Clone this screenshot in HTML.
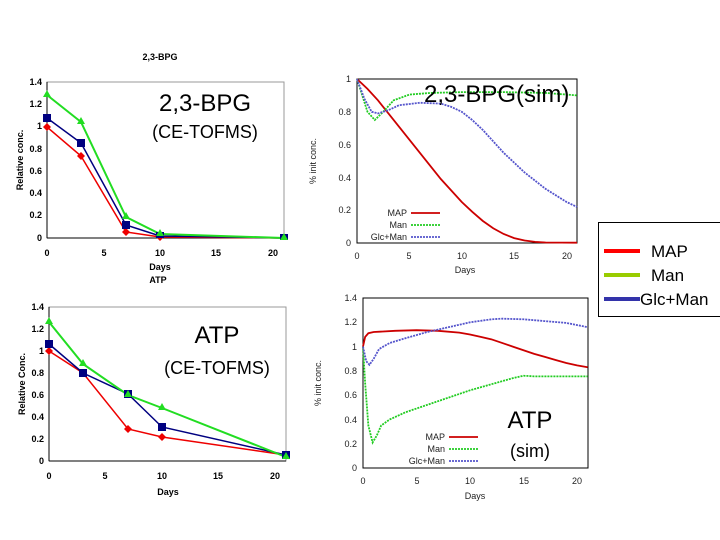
<!DOCTYPE html>
<html><head><meta charset="utf-8"><style>
body{margin:0;background:#fff}
svg{display:block;font-family:"Liberation Sans",sans-serif}
.b{font-weight:bold;font-size:9px}
.g{font-size:9px;fill:#222}
</style></head><body>
<svg width="720" height="540" viewBox="0 0 720 540">
<rect width="720" height="540" fill="#fff"/>
<!-- Top-left -->
<text x="160" y="60" class="b" font-size="7" text-anchor="middle">2,3-BPG</text>
<rect x="47" y="82" width="237" height="156" fill="none" stroke="#999" stroke-width="1"/>
<line x1="47" y1="82" x2="47" y2="238" stroke="#000"/><line x1="47" y1="238" x2="284" y2="238" stroke="#000"/>
<g class="b" text-anchor="end">
<text x="42" y="85">1.4</text><text x="42" y="107">1.2</text><text x="42" y="129">1</text><text x="42" y="152">0.8</text><text x="42" y="174">0.6</text><text x="42" y="196">0.4</text><text x="42" y="218">0.2</text><text x="42" y="241">0</text></g>
<g class="b" text-anchor="middle"><text x="47" y="256">0</text><text x="104" y="256">5</text><text x="160" y="256">10</text><text x="216" y="256">15</text><text x="273" y="256">20</text><text x="160" y="270">Days</text></g>
<text class="b" transform="translate(23,160) rotate(-90)" text-anchor="middle">Relative conc.</text>
<text x="205" y="111" font-size="24" text-anchor="middle">2,3-BPG</text>
<text x="205" y="138" font-size="18" text-anchor="middle">(CE-TOFMS)</text>
<polyline points="47,127 81,156 126,232 160,237 284,238" fill="none" stroke="#e00" stroke-width="1.5"/>
<polyline points="47,118 81,143 126,225 160,236 284,238" fill="none" stroke="#000080" stroke-width="1.5"/>
<polyline points="47,95 81,122 126,217 160,234 284,238" fill="none" stroke="#2d2" stroke-width="2"/>
<g fill="#e00"><path d="M47,123 l4,4 -4,4 -4,-4z M81,152 l4,4 -4,4 -4,-4z M126,228 l4,4 -4,4 -4,-4z M160,233 l4,4 -4,4 -4,-4z"/></g>
<g fill="#000080"><rect x="43" y="114" width="8" height="8"/><rect x="77" y="139" width="8" height="8"/><rect x="122" y="221" width="8" height="8"/><rect x="156" y="232" width="8" height="6"/><rect x="280" y="234" width="8" height="6"/></g>
<g fill="#2d2"><path d="M47,90 l4,7 -8,0z M81,117 l4,7 -8,0z M126,212 l4,7 -8,0z M160,229 l4,7 -8,0z M284,233 l4,7 -8,0z"/></g>

<!-- Bottom-left -->
<text x="158" y="283" class="b" font-size="7" text-anchor="middle">ATP</text>
<rect x="49" y="307" width="237" height="154" fill="none" stroke="#999"/>
<line x1="49" y1="307" x2="49" y2="461" stroke="#000"/><line x1="49" y1="461" x2="286" y2="461" stroke="#000"/>
<g class="b" text-anchor="end">
<text x="44" y="310">1.4</text><text x="44" y="332">1.2</text><text x="44" y="354">1</text><text x="44" y="376">0.8</text><text x="44" y="398">0.6</text><text x="44" y="420">0.4</text><text x="44" y="442">0.2</text><text x="44" y="464">0</text></g>
<g class="b" text-anchor="middle"><text x="49" y="479">0</text><text x="105" y="479">5</text><text x="162" y="479">10</text><text x="218" y="479">15</text><text x="275" y="479">20</text><text x="168" y="495">Days</text></g>
<text class="b" transform="translate(25,384) rotate(-90)" text-anchor="middle">Relative Conc.</text>
<text x="217" y="343" font-size="24" text-anchor="middle">ATP</text>
<text x="217" y="374" font-size="18" text-anchor="middle">(CE-TOFMS)</text>
<polyline points="49,351 83,373 128,429 162,437 286,455" fill="none" stroke="#e00" stroke-width="1.5"/>
<polyline points="49,344 83,373 128,394 162,427 286,455" fill="none" stroke="#000080" stroke-width="1.5"/>
<polyline points="49,322 83,364 128,395 162,408 286,457" fill="none" stroke="#2d2" stroke-width="2"/>
<g fill="#e00"><path d="M49,347 l4,4 -4,4 -4,-4z M83,369 l4,4 -4,4 -4,-4z M128,425 l4,4 -4,4 -4,-4z M162,433 l4,4 -4,4 -4,-4z"/></g>
<g fill="#000080"><rect x="45" y="340" width="8" height="8"/><rect x="79" y="369" width="8" height="8"/><rect x="124" y="390" width="8" height="8"/><rect x="158" y="423" width="8" height="8"/><rect x="282" y="451" width="8" height="8"/></g>
<g fill="#2d2"><path d="M49,317 l4,7 -8,0z M83,359 l4,7 -8,0z M128,390 l4,7 -8,0z M162,403 l4,7 -8,0z M286,452 l4,7 -8,0z"/></g>

<!-- Top-right -->
<rect x="357" y="79" width="220" height="164" fill="none" stroke="#000"/>
<g class="g" text-anchor="end"><text x="351" y="82">1</text><text x="351" y="115">0.8</text><text x="351" y="148">0.6</text><text x="351" y="181">0.4</text><text x="351" y="213">0.2</text><text x="351" y="246">0</text></g>
<g class="g" text-anchor="middle"><text x="357" y="259">0</text><text x="409" y="259">5</text><text x="462" y="259">10</text><text x="514" y="259">15</text><text x="567" y="259">20</text><text x="465" y="273">Days</text></g>
<text class="g" transform="translate(316,161) rotate(-90)" text-anchor="middle">% init conc.</text>
<g transform="translate(357,243) scale(10.476,-164)" fill="none">
<polyline vector-effect="non-scaling-stroke" stroke="#c00" stroke-width="1.8" points="0,1 1,0.94 2,0.87 3,0.79 4,0.71 5,0.63 6,0.55 7,0.47 8,0.39 9,0.32 10,0.25 11,0.19 12,0.135 13,0.09 14,0.055 15,0.03 16,0.015 17,0.007 18,0.003 21,0.002"/>
<polyline vector-effect="non-scaling-stroke" stroke="#2c2" stroke-width="1.8" stroke-dasharray="2,1" points="0,1 0.5,0.9 1,0.8 1.7,0.75 2.5,0.8 3.5,0.87 5,0.905 7,0.915 10,0.92 14,0.92 18,0.915 21,0.9"/>
<polyline vector-effect="non-scaling-stroke" stroke="#55c" stroke-width="1.8" stroke-dasharray="2,1" points="0,1 0.7,0.88 1.4,0.8 2,0.79 3,0.81 4,0.84 6,0.855 8,0.85 9,0.83 10,0.8 11,0.75 12,0.69 13,0.62 14,0.55 15,0.49 16,0.43 17,0.38 18,0.33 19,0.29 20,0.25 21,0.22"/>
</g>
<text x="424" y="102" font-size="24">2,3-BPG(sim)</text>
<g class="g" text-anchor="end" font-size="8"><text x="407" y="216">MAP</text><text x="407" y="228">Man</text><text x="407" y="240">Glc+Man</text></g>
<line x1="411" y1="213" x2="440" y2="213" stroke="#c00" stroke-width="1.8"/>
<line x1="411" y1="225" x2="440" y2="225" stroke="#2c2" stroke-width="1.8" stroke-dasharray="2,1"/>
<line x1="411" y1="237" x2="440" y2="237" stroke="#55c" stroke-width="1.8" stroke-dasharray="2,1"/>

<!-- Bottom-right -->
<rect x="363" y="298" width="225" height="170" fill="none" stroke="#000"/>
<g class="g" text-anchor="end"><text x="357" y="301">1.4</text><text x="357" y="325">1.2</text><text x="357" y="350">1</text><text x="357" y="374">0.8</text><text x="357" y="398">0.6</text><text x="357" y="423">0.4</text><text x="357" y="447">0.2</text><text x="357" y="471">0</text></g>
<g class="g" text-anchor="middle"><text x="363" y="484">0</text><text x="417" y="484">5</text><text x="470" y="484">10</text><text x="524" y="484">15</text><text x="577" y="484">20</text><text x="475" y="499">Days</text></g>
<text class="g" transform="translate(321,383) rotate(-90)" text-anchor="middle">% init conc.</text>
<g transform="translate(363,468) scale(10.7,-121.4)" fill="none">
<polyline vector-effect="non-scaling-stroke" stroke="#c00" stroke-width="1.8" points="0,1 0.2,1.08 0.5,1.11 1,1.12 3,1.13 5,1.135 7,1.13 9,1.115 10,1.1 11,1.08 12,1.06 13,1.03 14,1.0 15,0.97 16,0.94 17,0.915 18,0.89 19,0.865 20,0.845 21,0.83"/>
<polyline vector-effect="non-scaling-stroke" stroke="#2c2" stroke-width="1.8" stroke-dasharray="2,1" points="0,1 0.2,0.7 0.5,0.35 0.9,0.21 1.3,0.27 1.7,0.35 2.5,0.4 4,0.46 6,0.52 8,0.58 10,0.64 12,0.69 14,0.74 15,0.76 16,0.755 18,0.755 21,0.755"/>
<polyline vector-effect="non-scaling-stroke" stroke="#55c" stroke-width="1.8" stroke-dasharray="2,1" points="0,1 0.3,0.88 0.6,0.85 1,0.9 1.5,0.98 2.5,1.03 4,1.07 6,1.12 8,1.16 10,1.2 12,1.225 13,1.23 15,1.225 17,1.21 19,1.195 21,1.16"/>
</g>
<g class="g" text-anchor="end" font-size="8"><text x="445" y="440">MAP</text><text x="445" y="452">Man</text><text x="445" y="464">Glc+Man</text></g>
<line x1="449" y1="437" x2="478" y2="437" stroke="#c00" stroke-width="1.8"/>
<line x1="449" y1="449" x2="478" y2="449" stroke="#2c2" stroke-width="1.8" stroke-dasharray="2,1"/>
<line x1="449" y1="461" x2="478" y2="461" stroke="#55c" stroke-width="1.8" stroke-dasharray="2,1"/>
<text x="530" y="428" font-size="24" text-anchor="middle">ATP</text>
<text x="530" y="457" font-size="18" text-anchor="middle">(sim)</text>

<!-- Right legend -->
<rect x="598.5" y="222.5" width="125" height="94" fill="#fff" stroke="#000"/>
<line x1="604" y1="251" x2="640" y2="251" stroke="#f00" stroke-width="4"/>
<line x1="604" y1="275" x2="640" y2="275" stroke="#9c0" stroke-width="4"/>
<line x1="604" y1="299" x2="640" y2="299" stroke="#33a" stroke-width="4"/>
<text x="651" y="257" font-size="17">MAP</text>
<text x="651" y="281" font-size="17">Man</text>
<text x="640" y="305" font-size="17">Glc+Man</text>
</svg>
</body></html>
